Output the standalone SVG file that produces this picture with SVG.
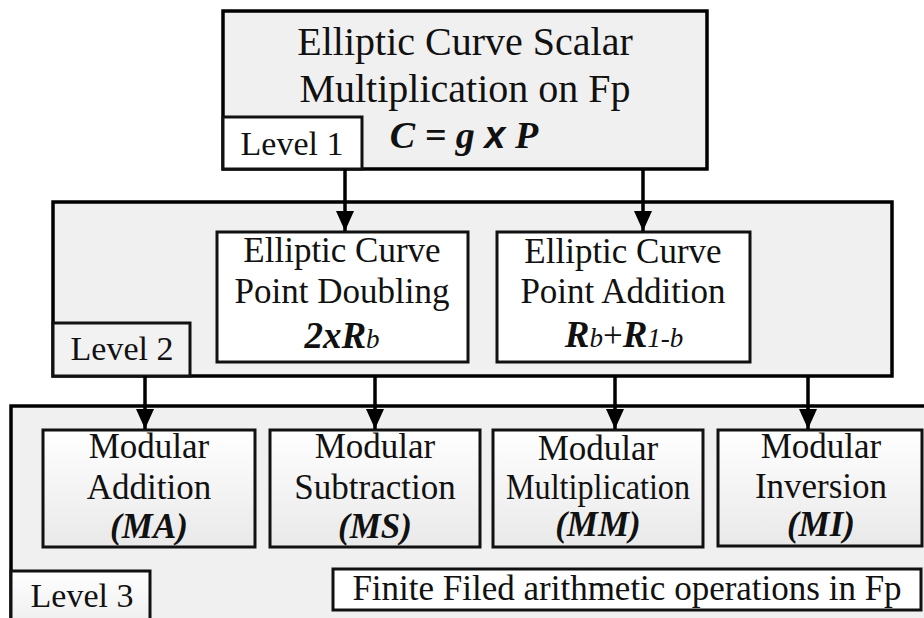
<svg xmlns="http://www.w3.org/2000/svg" width="924" height="618" viewBox="0 0 924 618">
  <defs>
    <linearGradient id="softFill" x1="0" y1="0" x2="0" y2="1">
      <stop offset="0" stop-color="#ffffff"/>
      <stop offset="1" stop-color="#e9e9e9"/>
    </linearGradient>
    <marker id="arrowHead" viewBox="0 0 20 18" refX="20" refY="9" markerWidth="20" markerHeight="18" markerUnits="userSpaceOnUse" orient="auto">
      <path d="M0,0 L20,9 L0,18 z" fill="#000"/>
    </marker>
    <style>
      .panel { fill: #f0f0f0; stroke: #000; stroke-width: 3.5; }
      .box { fill: #ffffff; stroke: #111; stroke-width: 3; }
      .soft { fill: url(#softFill); stroke: #111; stroke-width: 3; }
      .tag { fill: #ffffff; stroke: #111; stroke-width: 3; }
      .tagsoft { fill: #f2f2f2; stroke: #111; stroke-width: 3; }
      text { font-family: "Liberation Serif", "Times New Roman", serif; fill: #111; text-anchor: middle; }
      .title { font-size: 40px; }
      .lbl { font-size: 35px; }
      .lvl { font-size: 34px; }
      .bi { font-weight: bold; font-style: italic; }
      .it { font-style: italic; }
      .conn { stroke: #000; stroke-width: 3.5; fill: none; marker-end: url(#arrowHead); }
    </style>
  </defs>

  <rect width="924" height="618" fill="#ffffff"/>

  <!-- Level 1: scalar multiplication -->
  <g id="level1">
    <rect class="panel" x="223" y="11" width="484" height="158"/>
    <text class="title" x="465" y="55">Elliptic Curve Scalar</text>
    <text class="title" x="465" y="102">Multiplication on Fp</text>
    <text class="bi" x="464" y="148" font-size="38">C = g <tspan font-family="Liberation Sans, Arial, sans-serif">x</tspan> P</text>
    <rect class="tag" x="223" y="117" width="139" height="52"/>
    <text class="lvl" x="292" y="155">Level 1</text>
  </g>

  <!-- Level 2: point operations -->
  <g id="level2">
    <rect class="panel" x="53" y="202" width="839" height="174"/>
    <rect class="tagsoft" x="53" y="323" width="137" height="53"/>
    <text class="lvl" x="122" y="360">Level 2</text>
  </g>

  <g id="point-doubling">
    <rect class="box" x="217" y="232" width="251" height="130"/>
    <text class="lbl" x="342" y="262">Elliptic Curve</text>
    <text class="lbl" x="342" y="303">Point Doubling</text>
    <text x="342" y="348"><tspan class="bi" font-size="37">2xR</tspan><tspan class="it" font-size="27">b</tspan></text>
  </g>

  <g id="point-addition">
    <rect class="box" x="497" y="232" width="253" height="130"/>
    <text class="lbl" x="623" y="263">Elliptic Curve</text>
    <text class="lbl" x="623" y="303">Point Addition</text>
    <text x="624" y="347"><tspan class="bi" font-size="37">R</tspan><tspan class="it" font-size="27">b</tspan><tspan font-size="35">+</tspan><tspan class="bi" font-size="37">R</tspan><tspan class="it" font-size="27">1-b</tspan></text>
  </g>

  <!-- Level 3: finite field arithmetic -->
  <g id="level3">
    <rect class="panel" x="11" y="406" width="930" height="240"/>
    <rect class="soft" x="11" y="571" width="139" height="70"/>
    <text class="lvl" x="82" y="607">Level 3</text>
  </g>

  <g id="modular-addition">
    <rect class="soft" x="43" y="430" width="212" height="117"/>
    <text class="lbl" x="149" y="458">Modular</text>
    <text class="lbl" x="149" y="499">Addition</text>
    <text class="lbl bi" x="149" y="538">(MA)</text>
  </g>

  <g id="modular-subtraction">
    <rect class="soft" x="270" y="430" width="210" height="117"/>
    <text class="lbl" x="375" y="458">Modular</text>
    <text class="lbl" x="375" y="499">Subtraction</text>
    <text class="lbl bi" x="375" y="538">(MS)</text>
  </g>

  <g id="modular-multiplication">
    <rect class="soft" x="493" y="430" width="210" height="117"/>
    <text class="lbl" x="598" y="460">Modular</text>
    <text class="lbl" x="598" y="499" textLength="184" lengthAdjust="spacingAndGlyphs">Multiplication</text>
    <text class="lbl bi" x="598" y="536">(MM)</text>
  </g>

  <g id="modular-inversion">
    <rect class="soft" x="718" y="430" width="204" height="116"/>
    <text class="lbl" x="821" y="458">Modular</text>
    <text class="lbl" x="821" y="498">Inversion</text>
    <text class="lbl bi" x="821" y="536">(MI)</text>
  </g>

  <g id="field-note">
    <rect class="box" x="333" y="569" width="588" height="41"/>
    <text class="lbl" x="627" y="600">Finite Filed arithmetic operations in Fp</text>
  </g>

  <!-- Connectors -->
  <g id="connectors">
    <line class="conn" x1="345" y1="169" x2="345" y2="231"/>
    <line class="conn" x1="643" y1="169" x2="643" y2="231"/>
    <line class="conn" x1="145" y1="376" x2="145" y2="429"/>
    <line class="conn" x1="375" y1="376" x2="375" y2="429"/>
    <line class="conn" x1="615" y1="376" x2="615" y2="429"/>
    <line class="conn" x1="808" y1="376" x2="808" y2="429"/>
  </g>
</svg>
